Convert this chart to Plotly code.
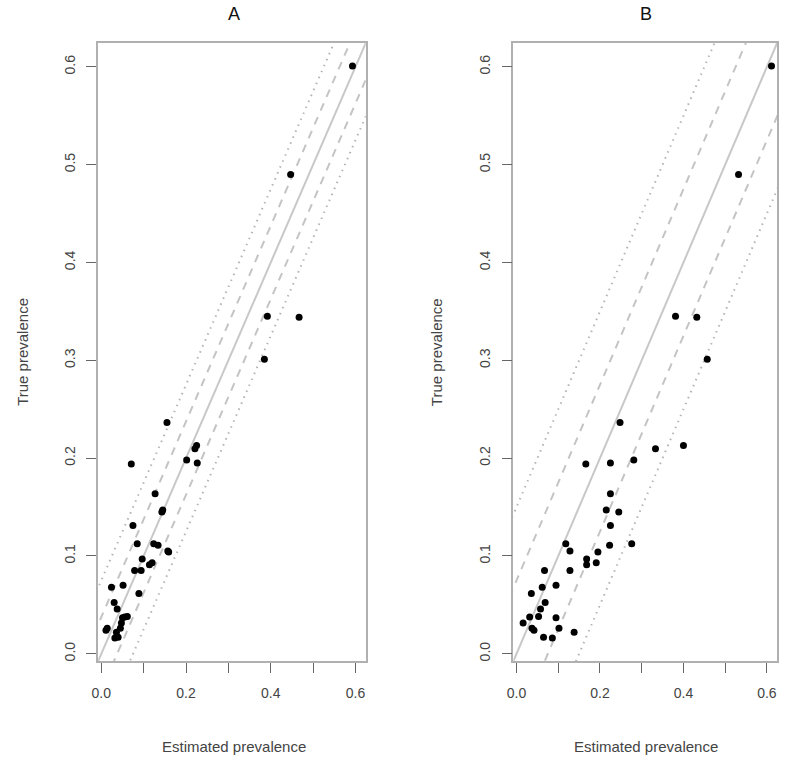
import plotly.graph_objects as go

# True prevalence (shared by both panels)
true_prev = [0.601, 0.490, 0.345, 0.344, 0.301, 0.2365, 0.213, 0.2096, 0.198, 0.195,
             0.194, 0.1636, 0.147, 0.145, 0.131, 0.1125, 0.111, 0.1125, 0.105, 0.104,
             0.097, 0.093, 0.091, 0.085, 0.085, 0.070, 0.068, 0.0617, 0.0525, 0.0457,
             0.038, 0.0375, 0.0368, 0.0314, 0.026, 0.026, 0.024, 0.022, 0.017, 0.016]

# Estimated prevalence, panel A
est_A = [0.593, 0.447, 0.392, 0.467, 0.385, 0.155, 0.225, 0.221, 0.2015, 0.2265,
         0.0708, 0.127, 0.145, 0.143, 0.0747, 0.0848, 0.134, 0.1237, 0.157, 0.159,
         0.0965, 0.120, 0.1136, 0.0786, 0.094, 0.0514, 0.024, 0.0887, 0.0303, 0.0374,
         0.0614, 0.0553, 0.050, 0.0474, 0.014, 0.045, 0.011, 0.0357, 0.0397, 0.032]

# Estimated prevalence, panel B
est_B = [0.611, 0.532, 0.381, 0.432, 0.457, 0.248, 0.400, 0.333, 0.281, 0.225,
         0.166, 0.225, 0.215, 0.245, 0.225, 0.118, 0.223, 0.276, 0.128, 0.195,
         0.168, 0.191, 0.168, 0.067, 0.128, 0.0946, 0.0615, 0.0355, 0.0686, 0.0575,
         0.0528, 0.0315, 0.0946, 0.0158, 0.037, 0.1017, 0.0418, 0.138, 0.0647, 0.0858]

tick_vals = [0.0, 0.1, 0.2, 0.3, 0.4, 0.5, 0.6]
x_tick_text = ["0.0", "", "0.2", "", "0.4", "", "0.6"]
y_tick_text = ["0.0", "0.1", "0.2", "0.3", "0.4", "0.5", "0.6"]

band_A = [0.0375, 0.075]
band_B = [0.075, 0.15]
panel_titles = ["A", "B"]

axis_range = [-0.0074, 0.6244]
line_x = [-0.2, 0.9]

fig = go.Figure()

FONT = "Liberation Sans, Arial, sans-serif"
panels = [("x", "y", est_A, band_A), ("x2", "y2", est_B, band_B)]
for xa, ya, est, band in panels:
    # reference lines
    fig.add_trace(go.Scatter(x=line_x, y=line_x, mode="lines", xaxis=xa, yaxis=ya,
                             line=dict(color="#c8c8c8", width=2), hoverinfo="skip", showlegend=False))
    for off, dash, col in [(band[0], "8px,7px", "#c4c4c4"), (band[1], "1.5px,5px", "#b4b4b4")]:
        for s in (1, -1):
            fig.add_trace(go.Scatter(x=line_x, y=[v + s * off for v in line_x], mode="lines",
                                     xaxis=xa, yaxis=ya,
                                     line=dict(color=col, width=2, dash=dash),
                                     hoverinfo="skip", showlegend=False))
    fig.add_trace(go.Scatter(x=est, y=true_prev, mode="markers", xaxis=xa, yaxis=ya,
                             marker=dict(color="black", size=7, line=dict(width=0)),
                             showlegend=False))

ax_common = dict(range=axis_range, showgrid=False, zeroline=False, showline=True, mirror=True,
                 linecolor="#b0b0b0", linewidth=1.5, ticks="outside", ticklen=10, tickwidth=1,
                 tickcolor="#666666", tickvals=tick_vals,
                 tickfont=dict(family=FONT, size=14, color="#444444"))

yd = [1 - 661 / 759, 1 - 43 / 759]
fig.update_layout(
    width=787, height=759, margin=dict(l=0, r=0, t=0, b=0),
    plot_bgcolor="white", paper_bgcolor="white",
    xaxis=dict(ax_common, domain=[92 / 787, 362 / 787], ticktext=x_tick_text, anchor="y",
               ticklabelstandoff=8),
    yaxis=dict(ax_common, domain=yd, ticktext=y_tick_text, tickangle=-90, anchor="x",
               ticklabelstandoff=6),
    xaxis2=dict(ax_common, domain=[511 / 787, 777 / 787], ticktext=x_tick_text, anchor="y2",
                ticklabelstandoff=8),
    yaxis2=dict(ax_common, domain=yd, ticktext=y_tick_text, tickangle=-90, anchor="x2",
                ticklabelstandoff=6),
)

annots = []
for cx, title, ylab_x in [(229, panel_titles[0], 15), (645, panel_titles[1], 433)]:
    annots.append(dict(x=cx / 787, y=1 - 14 / 759, xref="paper", yref="paper", text=title,
                       showarrow=False, font=dict(family=FONT, size=18, color="#111111"),
                       xanchor="center", yanchor="middle"))
    annots.append(dict(x=cx / 787, y=1 - 746 / 759, xref="paper", yref="paper",
                       text="Estimated prevalence", showarrow=False,
                       font=dict(family=FONT, size=15, color="#444444"),
                       xanchor="center", yanchor="middle"))
    annots.append(dict(x=ylab_x / 787, y=1 - 352 / 759, xref="paper", yref="paper",
                       text="True prevalence", showarrow=False, textangle=-90,
                       font=dict(family=FONT, size=15, color="#444444"),
                       xanchor="center", yanchor="middle"))
fig.update_layout(annotations=annots)

fig.write_html("out.html", config={"displayModeBar": False},
               post_script="document.body.style.margin='0';document.body.style.overflow='hidden';")
